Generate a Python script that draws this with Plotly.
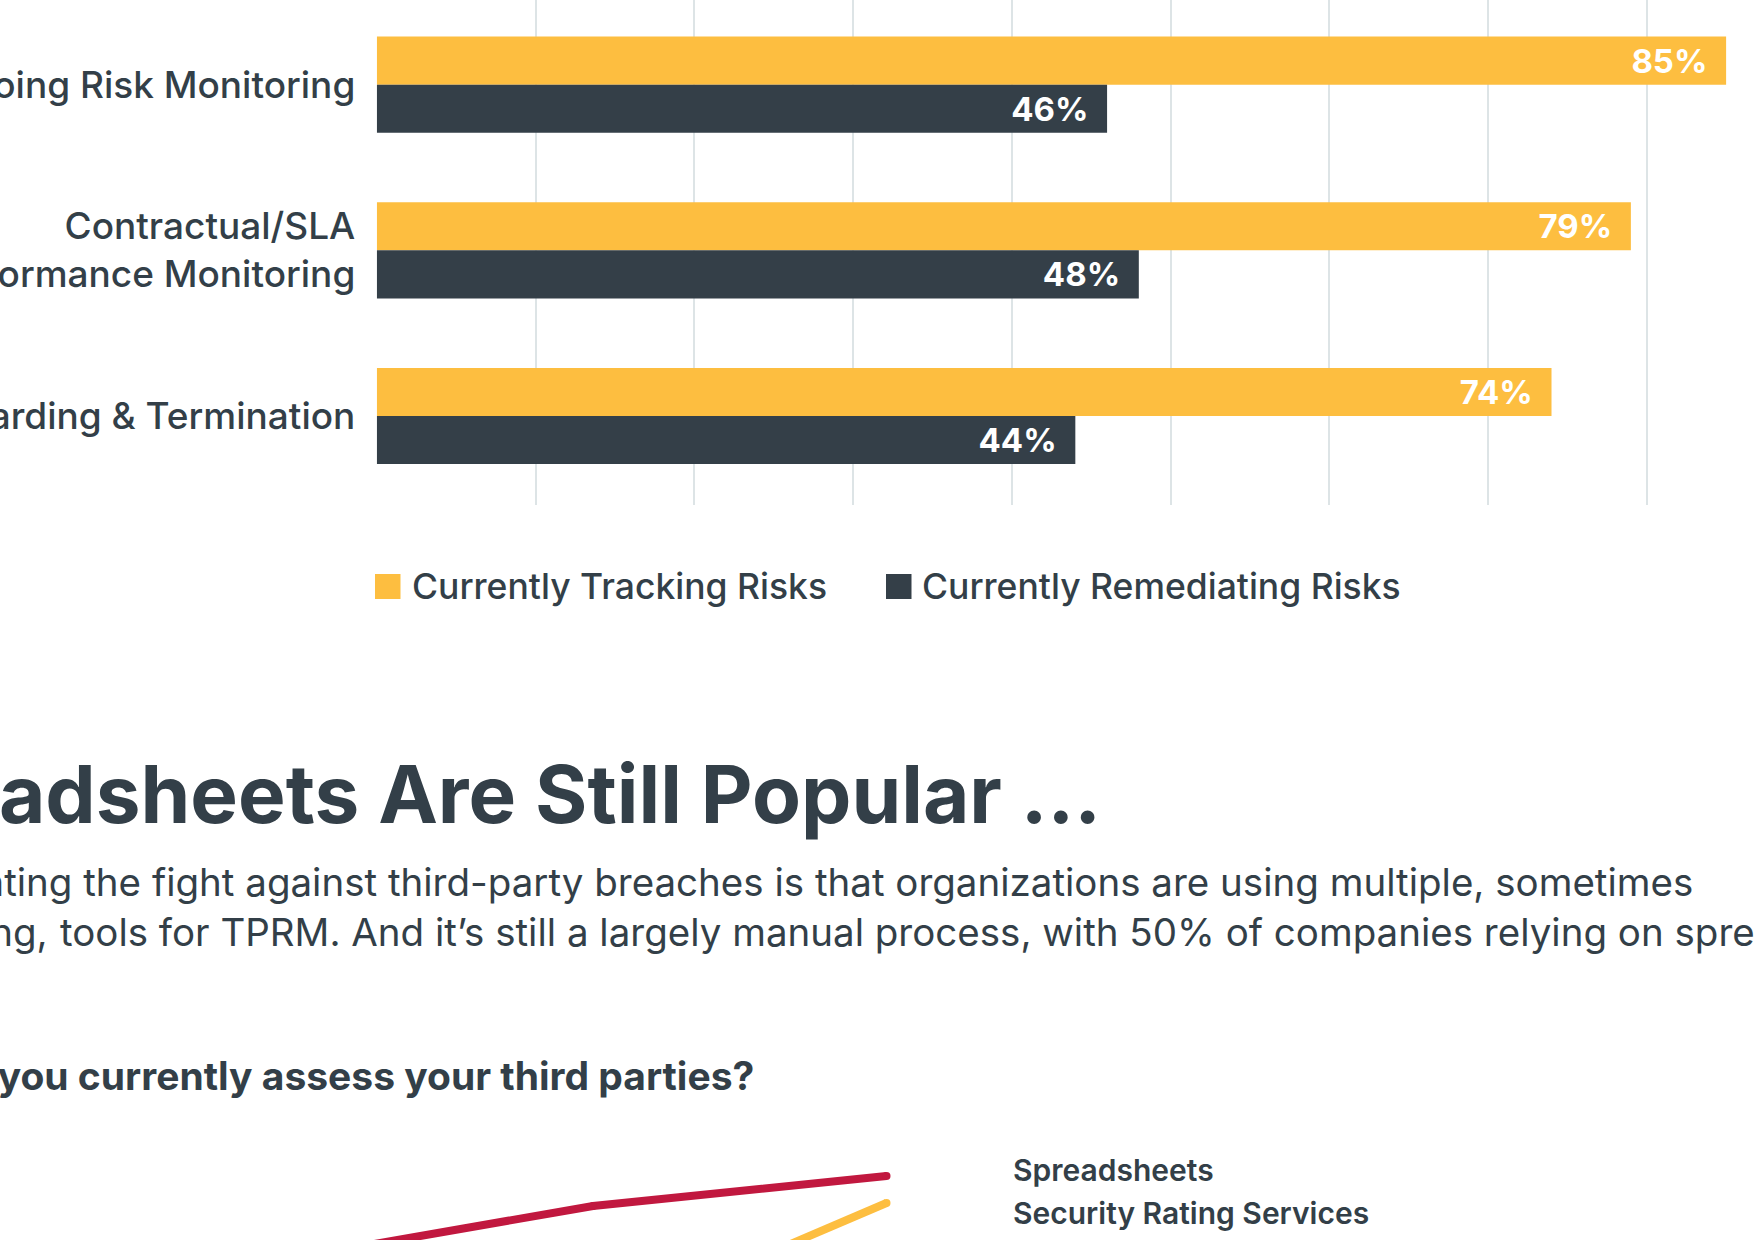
import plotly.graph_objects as go

W, H = 1756, 1240
FONT = "Inter"
TEXT = "#333F48"
YELLOW = "#FDBE40"
DARK = "#343F48"
RED = "#C1183F"
GRID = "#DDE4E6"

# ---------------- data ----------------
categories = ["Ongoing Risk Monitoring",
              "Contractual/SLA<br>Performance Monitoring",
              "Offboarding & Termination"]
tracking = [85, 79, 74]
remediating = [46, 48, 44]
series_names = ["Currently Tracking Risks", "Currently Remediating Risks"]

line_years_sheets = [2021, 2022, 2023]
spreadsheets = [42.2, 52.4, 58.4]
line_years_rating = [2022, 2023]
rating_services = [27.9, 53.0]
line_labels = ["Spreadsheets", "Security Rating Services"]

heading = "Spreadsheets Are Still Popular ..."
body_line1 = "Complicating the fight against third-party breaches is that organizations are using multiple, sometimes"
body_line2a = "overlapping,"
body_line2b = "tools for TPRM. And it\u2019s still a largely manual process, with 50% of companies relying on spreadsheets"
question = "How do you currently assess your third parties?"


def px(x):
    return x / W


def py(y):
    return 1 - y / H


fig = go.Figure()

nb = "\u00a0\u00a0"
for vals, col, name in [(tracking, YELLOW, series_names[0]),
                        (remediating, DARK, series_names[1])]:
    fig.add_trace(go.Bar(
        y=categories, x=vals, orientation="h", name=name,
        marker=dict(color=col, line=dict(width=0)),
        texttemplate="%{x}%" + nb, textposition="inside", insidetextanchor="end",
        textfont=dict(family=FONT, size=33, color="white", weight=700),
        constraintext="none", xaxis="x", yaxis="y", showlegend=False,
        hoverinfo="skip"))

fig.add_trace(go.Scatter(
    x=line_years_sheets, y=spreadsheets, mode="lines+markers", name=line_labels[0],
    line=dict(color=RED, width=8), marker=dict(color=RED, size=8),
    xaxis="x2", yaxis="y2", showlegend=False, hoverinfo="skip"))
fig.add_trace(go.Scatter(
    x=line_years_rating, y=rating_services, mode="lines+markers", name=line_labels[1],
    line=dict(color=YELLOW, width=8), marker=dict(color=YELLOW, size=8),
    xaxis="x2", yaxis="y2", showlegend=False, hoverinfo="skip"))

x0 = 376.3
pp = 15.88
layout = dict(
    width=W, height=H,
    margin=dict(l=0, r=0, t=0, b=0, autoexpand=False),
    paper_bgcolor="white", plot_bgcolor="white",
    barmode="group", bargap=0.42, bargroupgap=0,
    font=dict(family=FONT, color=TEXT),
    xaxis=dict(domain=[px(x0), 1], range=[-0.04, (W - x0) / pp],
               tickmode="linear", tick0=0, dtick=10, showgrid=True,
               gridcolor=GRID, gridwidth=2, zeroline=False, automargin=False,
               showticklabels=False, ticks="", showline=False, fixedrange=True),
    yaxis=dict(domain=[py(505), 1], type="category", categoryorder="array",
               categoryarray=categories, range=[2.537, -0.511],
               showgrid=False, zeroline=False, showline=False, ticks="",
               ticklabelstandoff=20, automargin=False,
               tickfont=dict(family=FONT, size=37, color=TEXT, weight=500),
               fixedrange=True),
    xaxis2=dict(domain=[0, px(968)], anchor="y2",
                range=[2022 - 593 / 293.5, 2023 + 81.5 / 293.5],
                showgrid=False, zeroline=False, showticklabels=False,
                automargin=False,
                ticks="", showline=False, fixedrange=True),
    yaxis2=dict(domain=[0, py(1167)], anchor="x2", range=[60.2 - 73 / 5, 60.2],
                tickvals=[60], showgrid=True, gridcolor=GRID, gridwidth=2,
                zeroline=False, showticklabels=False, ticks="", showline=False,
                automargin=False, fixedrange=True),
)
fig.update_layout(**layout)

ann = []
shapes = []

# custom legend for bar chart
leg = [(375, 410, YELLOW, series_names[0]), (886, 920, DARK, series_names[1])]
for sx, tx, col, name in leg:
    shapes.append(dict(type="rect", xref="paper", yref="paper",
                       x0=px(sx), x1=px(sx + 25.5), y0=py(599), y1=py(574),
                       fillcolor=col, line=dict(width=0)))
    ann.append(dict(text=name, xref="paper", yref="paper", x=px(tx), y=py(586.5),
                    xanchor="left", yanchor="middle", showarrow=False,
                    font=dict(family=FONT, size=35.5, color=TEXT, weight=500)))

ann.append(dict(text=heading, xref="paper", yref="paper", x=px(1103), y=py(793),
                xanchor="right", yanchor="middle", showarrow=False,
                font=dict(family=FONT, size=80, color=TEXT, weight=700)))
ann.append(dict(text=body_line1, xref="paper", yref="paper", x=px(1695), y=py(882),
                xanchor="right", yanchor="middle", showarrow=False,
                font=dict(family=FONT, size=38.5, color=TEXT, weight=400)))
ann.append(dict(text=body_line2a, xref="paper", yref="paper", x=px(50), y=py(932),
                xanchor="right", yanchor="middle", showarrow=False,
                font=dict(family=FONT, size=38.5, color=TEXT, weight=400)))
ann.append(dict(text=body_line2b, xref="paper", yref="paper", x=px(58), y=py(932),
                xanchor="left", yanchor="middle", showarrow=False,
                font=dict(family=FONT, size=38.5, color=TEXT, weight=400)))
ann.append(dict(text=question, xref="paper", yref="paper", x=px(756), y=py(1075),
                xanchor="right", yanchor="middle", showarrow=False,
                font=dict(family=FONT, size=39, color=TEXT, weight=700)))
for lbl, yc in zip(line_labels, [1170, 1213]):
    ann.append(dict(text=lbl, xref="paper", yref="paper", x=px(1011), y=py(yc),
                    xanchor="left", yanchor="middle", showarrow=False,
                    font=dict(family=FONT, size=30, color=TEXT, weight=600)))

fig.update_layout(annotations=ann, shapes=shapes)

fig.write_html("out.html", config={"displayModeBar": False, "staticPlot": True},
               post_script="document.body.style.margin='0';")
